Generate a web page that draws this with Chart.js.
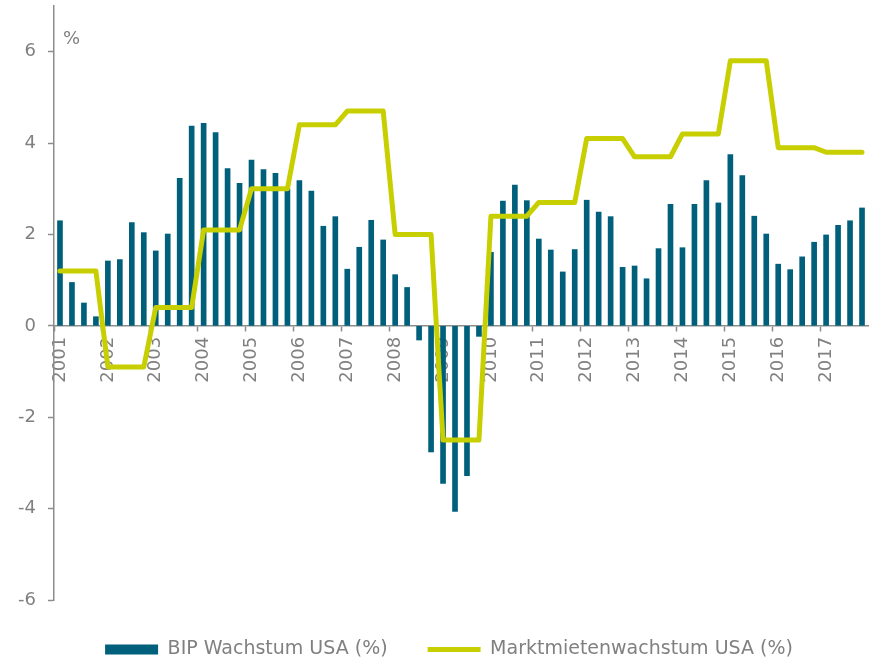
<!DOCTYPE html>
<html>
<head>
<meta charset="utf-8">
<script src="https://cdn.jsdelivr.net/npm/chart.js@4.4.0/dist/chart.umd.min.js"></script>
<style>
  html, body { margin: 0; padding: 0; background: #fff; }
  #wrap { width: 873px; height: 659px; }
</style>
</head>
<body>
<div id="wrap"><canvas id="myChart"></canvas></div>
<script>
// years on the x axis, one category per quarter
var years = ['2001', '2002', '2003', '2004', '2005', '2006', '2007', '2008', '2009',
  '2010', '2011', '2012', '2013', '2014', '2015', '2016', '2017'];
var quarters = [];
years.forEach(y => { ['Q1', 'Q2', 'Q3', 'Q4'].forEach(q => quarters.push(y + ' ' + q)); });

// BIP Wachstum USA (%), quarterly
var gdpGrowth = [
  2.30, 0.95, 0.50, 0.20,
  1.42, 1.45, 2.26, 2.04,
  1.64, 2.01, 3.23, 4.37,
  4.43, 4.23, 3.44, 3.12,
  3.63, 3.42, 3.34, 3.00,
  3.18, 2.95, 2.18, 2.39,
  1.24, 1.72, 2.31, 1.88,
  1.12, 0.84, -0.31, -2.76,
  -3.45, -4.06, -3.28, -0.23,
  1.61, 2.73, 3.08, 2.74,
  1.90, 1.66, 1.18, 1.67,
  2.75, 2.49, 2.39, 1.28,
  1.31, 1.03, 1.69, 2.66,
  1.71, 2.66, 3.18, 2.69,
  3.75, 3.29, 2.40, 2.01,
  1.35, 1.23, 1.51, 1.83,
  1.99, 2.20, 2.30, 2.58
];

// Marktmietenwachstum USA (%), quarterly
var rentGrowth = [
  1.2, 1.2, 1.2, 1.2,
  -0.9, -0.9, -0.9, -0.9,
  0.4, 0.4, 0.4, 0.4,
  2.1, 2.1, 2.1, 2.1,
  3.0, 3.0, 3.0, 3.0,
  4.4, 4.4, 4.4, 4.4,
  4.7, 4.7, 4.7, 4.7,
  2.0, 2.0, 2.0, 2.0,
  -2.5, -2.5, -2.5, -2.5,
  2.4, 2.4, 2.4, 2.4,
  2.7, 2.7, 2.7, 2.7,
  4.1, 4.1, 4.1, 4.1,
  3.7, 3.7, 3.7, 3.7,
  4.2, 4.2, 4.2, 4.2,
  5.8, 5.8, 5.8, 5.8,
  3.9, 3.9, 3.9, 3.9,
  3.8, 3.8, 3.8, 3.8
];

var yTicks = [-6, -4, -2, 0, 2, 4, 6];

var grey = '#808080';
var axisGrey = '#8c8c8c';
var fontFamily = '"DejaVu Sans", Verdana, sans-serif';

// "%" unit label in the top left corner of the plot
var unitLabel = {
  id: 'unitLabel',
  afterLayout(chart) {
    // legend sits a bit right of the canvas centre
    chart.legend.left = 30;
  },
  afterDraw(chart) {
    const ctx = chart.ctx;
    const y = chart.scales.y.getPixelForValue(6.26);
    ctx.save();
    ctx.font = '18px ' + fontFamily;
    ctx.fillStyle = grey;
    ctx.textBaseline = 'middle';
    ctx.fillText('%', chart.chartArea.left + 9, y);
    ctx.restore();
  }
};

function noPadding(s) {
  s.paddingTop = 0;
  s.paddingBottom = 0;
  s.paddingLeft = 0;
  s.paddingRight = 0;
}

new Chart('myChart', {
  type: 'bar',
  data: {
    labels: quarters,
    datasets: [{
      type: 'bar',
      label: 'BIP Wachstum USA (%)',
      data: gdpGrowth,
      backgroundColor: '#00607b',
      borderWidth: 0,
      barThickness: 5,
      pointStyle: 'rect',
      order: 1
    }, {
      type: 'line',
      label: 'Marktmietenwachstum USA (%)',
      data: rentGrowth,
      borderColor: '#c8cf00',
      backgroundColor: '#c8cf00',
      borderWidth: 5,
      borderCapStyle: 'round',
      borderJoinStyle: 'round',
      pointRadius: 0,
      pointStyle: 'line',
      tension: 0,
      order: 0
    }]
  },
  options: {
    responsive: true,
    maintainAspectRatio: false,
    animation: false,
    layout: { padding: { top: 6, right: 5, bottom: -10, left: 0 } },
    plugins: {
      tooltip: { enabled: false },
      legend: {
        position: 'bottom',
        labels: {
          usePointStyle: true,
          pointStyleWidth: 53,
          boxHeight: 10,
          padding: 40,
          color: grey,
          font: { family: fontFamily, size: 19 },
          sort: (a, b) => a.datasetIndex - b.datasetIndex
        }
      }
    },
    scales: {
      x: {
        position: { y: 0 },
        offset: true,
        afterFit: noPadding,
        grid: {
          offset: true,
          drawOnChartArea: false,
          drawTicks: true,
          tickLength: 5,
          tickWidth: 1.5,
          tickColor: c => (c.index % 4 === 0 ? axisGrey : 'rgba(0,0,0,0)')
        },
        border: { color: axisGrey, width: 1.5 },
        ticks: {
          autoSkip: false,
          maxRotation: 90,
          minRotation: 90,
          padding: 6,
          color: grey,
          font: { family: fontFamily, size: 18 },
          callback: (v, i) => (i % 4 === 0 ? quarters[i].slice(0, 4) : '')
        }
      },
      y: {
        min: -6,
        max: 7,
        afterBuildTicks: s => { s.ticks = yTicks.map(v => ({ value: v })); },
        afterFit: s => { noPadding(s); s.width = 54; },
        grid: {
          drawOnChartArea: false,
          drawTicks: true,
          tickLength: 6,
          tickWidth: 1.5,
          tickColor: axisGrey
        },
        border: { color: axisGrey, width: 1.5 },
        ticks: {
          padding: 12,
          color: grey,
          font: { family: fontFamily, size: 18 }
        }
      }
    }
  },
  plugins: [unitLabel]
});
</script>
</body>
</html>
